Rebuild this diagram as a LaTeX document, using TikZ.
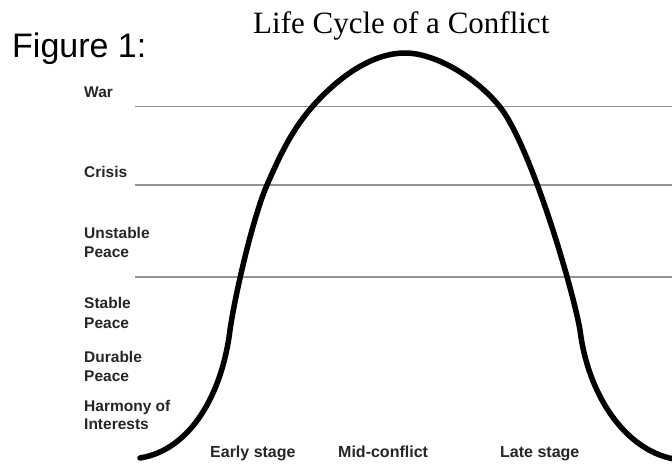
\documentclass[tikz,border=0pt]{standalone}
\usepackage{fontspec}
\setmainfont{Liberation Serif}
\newfontfamily\arialfont{Liberation Sans}
\begin{document}
\begin{tikzpicture}[x=1pt,y=-1pt,
  lvl/.style={anchor=base west,inner sep=0pt,font=\arialfont\bfseries\fontsize{15.5}{18}\selectfont,text=black!85},
  stage/.style={anchor=base west,inner sep=0pt,font=\arialfont\bfseries\fontsize{16}{19}\selectfont,text=black!85},
  grid/.style={draw=black!42,line width=1.6pt},
  curve/.style={draw=black,line width=5.5pt,line cap=round,line join=round}]
\useasboundingbox (0,0) rectangle (672,464);
% titles
\node[anchor=base west,inner sep=0pt,font=\arialfont\fontsize{34}{40}\selectfont] (fig) at (12,57) {Figure 1:};
\node[anchor=base west,inner sep=0pt,font=\fontsize{31}{36}\selectfont] (title) at (253,33) {Life Cycle of a Conflict};
% level lines
\coordinate (w1) at (135,106.5); \coordinate (w2) at (672,106.5);
\coordinate (c1) at (135,185); \coordinate (c2) at (672,185);
\coordinate (u1) at (135,277); \coordinate (u2) at (672,277);
\draw[grid] (w1) -- (w2);
\draw[grid] (c1) -- (c2);
\draw[grid] (u1) -- (u2);
% level labels
\node[lvl] (war) at (84,97) {War};
\node[lvl] (crisis) at (84,177) {Crisis};
\node[lvl] (unstA) at (84,238) {Unstable};
\node[lvl] (unstB) at (84,257) {Peace};
\node[lvl] (stabA) at (84,308) {Stable};
\node[lvl] (stabB) at (84,328) {Peace};
\node[lvl] (durA) at (84,362) {Durable};
\node[lvl] (durB) at (84,381) {Peace};
\node[lvl] (harA) at (84,411) {Harmony of};
\node[lvl] (harB) at (84,429) {Interests};
% stage labels
\node[stage] (early) at (210,457) {Early stage};
\node[stage] (mid) at (338,457) {Mid-conflict};
\node[stage] (late) at (500,457) {Late stage};
% life cycle curve
\coordinate (s0) at (140,458);
\coordinate (s1) at (230,330);
\coordinate (s1b) at (267,185);
\coordinate (s2) at (312,107);
\coordinate (pk) at (405,53);
\coordinate (s3) at (500,107);
\coordinate (s4) at (580,330);
\coordinate (s5) at (674,459);
\draw[curve] (s0) .. controls (190,450) and (222,395) .. (s1)
  .. controls (235,295) and (253,217) .. (s1b)
  .. controls (280,155) and (292,130) .. (s2)
  .. controls (342,73) and (375,53) .. (pk)
  .. controls (435,53) and (476,77) .. (s3)
  .. controls (530,145) and (572,285) .. (s4)
  .. controls (588,395) and (625,450) .. (s5);
\end{tikzpicture}
\end{document}
